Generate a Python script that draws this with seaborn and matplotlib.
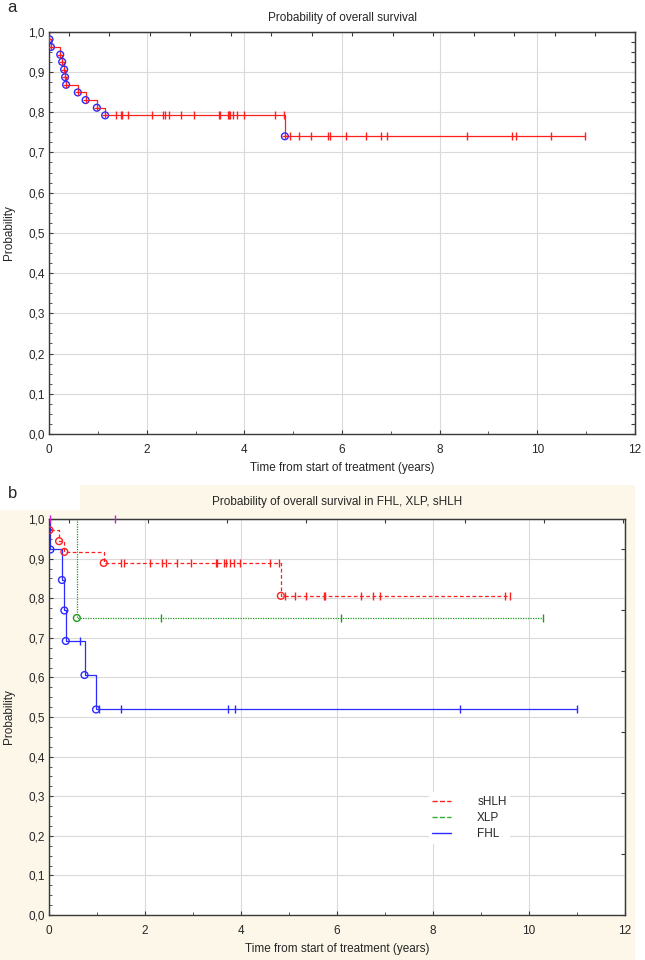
import numpy as np
import pandas as pd
import matplotlib
matplotlib.use('Agg')
import matplotlib.pyplot as plt
from matplotlib.lines import Line2D
from matplotlib.patches import Rectangle
import seaborn as sns

# ---- panel a: overall survival (all patients) ----
all_event_t = [0.01, 0.04, 0.23, 0.27, 0.31, 0.33, 0.35, 0.59, 0.75, 0.98, 1.15, 4.83]
all_event_p = [0.981, 0.962, 0.943, 0.925, 0.906, 0.887, 0.868, 0.849, 0.830, 0.811, 0.792, 0.740]
all_censor_t = [1.38, 1.47, 1.50, 1.61, 2.11, 2.34, 2.37, 2.45, 2.70, 2.97, 3.48, 3.51,
                3.67, 3.69, 3.71, 3.77, 3.85, 3.99, 4.62, 4.81, 4.93, 5.11, 5.36, 5.72,
                5.76, 6.09, 6.50, 6.79, 6.92, 8.56, 9.48, 9.56, 10.29, 10.98]

# ---- panel b: by diagnosis ----
shlh_event_t = [0.01, 0.21, 0.32, 1.14, 4.83]
shlh_event_p = [0.972, 0.944, 0.917, 0.889, 0.806]
shlh_censor_t = [1.50, 1.57, 2.11, 2.35, 2.44, 2.67, 2.96, 3.47, 3.51, 3.64, 3.69, 3.78,
                 3.85, 3.97, 4.61, 4.80, 4.92, 5.12, 5.36, 5.72, 5.76, 6.51, 6.76, 6.90,
                 9.49, 9.60]

xlp_event_t = [0.58]
xlp_event_p = [0.75]
xlp_censor_t = [2.33, 6.08, 10.30]

fhl_event_t = [0.03, 0.27, 0.32, 0.35, 0.74, 0.98]
fhl_event_p = [0.923, 0.846, 0.769, 0.692, 0.606, 0.519]
fhl_censor_t = [0.65, 1.05, 1.50, 3.72, 3.87, 8.57, 10.99]

other_censor_t = [0.03, 1.37]

x_ticks = [0, 2, 4, 6, 8, 10, 12]
y_ticks = [0.0, 0.1, 0.2, 0.3, 0.4, 0.5, 0.6, 0.7, 0.8, 0.9, 1.0]

RED = '#ff1f1f'
BLUE = '#2b2bff'
GREEN = '#1f9a1f'
MAGENTA = '#d01fd0'
CREAM = '#fcf7e9'

sns.set_style('whitegrid')
plt.rcParams['font.family'] = ['Liberation Sans', 'DejaVu Sans']
plt.rcParams['font.size'] = 8.5


def km_frame(event_t, event_p, end_t):
    t = [0.0] + list(event_t) + [end_t]
    p = [1.0] + list(event_p) + [event_p[-1]]
    return pd.DataFrame({'t': t, 'p': p})


def level_at(ts, event_t, event_p):
    idx = np.searchsorted(np.asarray(event_t), np.asarray(ts), side='right')
    levels = np.concatenate([[1.0], event_p])
    return levels[idx]


def draw_group(ax, event_t, event_p, censor_t, color, ls, circle_color, plus_inside=False):
    df = km_frame(event_t, event_p, max(censor_t))
    sns.lineplot(data=df, x='t', y='p', estimator=None, sort=False,
                 drawstyle='steps-post', color=color, lw=0.9, linestyle=ls, ax=ax)
    sns.scatterplot(x=censor_t, y=level_at(censor_t, event_t, event_p), marker='|',
                    s=30, color=color, edgecolor=color, linewidth=1.0, ax=ax, zorder=3)
    sns.scatterplot(x=event_t, y=event_p, marker='o', s=24, facecolors='none',
                    edgecolors=circle_color, linewidth=1.0, ax=ax, zorder=4)
    if plus_inside:
        sns.scatterplot(x=event_t, y=event_p, marker='+', s=16, color=color,
                        edgecolor=color, linewidth=0.9, ax=ax, zorder=5)


def style_axes(ax, top_ticks, right_ticks):
    ax.set_xlim(0, 12)
    ax.set_ylim(0, 1)
    ax.set_xticks(x_ticks)
    ax.set_yticks(y_ticks)
    ax.set_xticklabels([str(v) for v in x_ticks])
    ax.set_yticklabels([f'{v:.1f}'.replace('.', ',') for v in y_ticks])
    ax.set_xticks(np.arange(0, 12.01, 1), minor=True)
    ax.set_yticks(np.arange(0, 1.001, 0.025), minor=True)
    ax.grid(True, which='major', color='#dadada', lw=0.8)
    ax.grid(False, which='minor')
    ax.set_facecolor('white')
    for s in ax.spines.values():
        s.set_color('#3a3a3a')
        s.set_linewidth(1.0)
    ax.tick_params(which='both', direction='in', color='#3a3a3a', left=True, bottom=True,
                   labelsize=8.5)
    ax.tick_params(axis='x', which='both', pad=7.5)
    ax.tick_params(axis='y', which='both', pad=3)
    ax.tick_params(which='major', length=3)
    ax.tick_params(which='minor', length=2.5)
    sx = ax.secondary_xaxis('top')
    sx.set_xticks(top_ticks)
    sx.tick_params(direction='in', length=3, labeltop=False, color='#3a3a3a')
    sx.spines['top'].set_color('#3a3a3a')
    sy = ax.secondary_yaxis('right')
    sy.set_yticks(right_ticks)
    sy.tick_params(direction='in', length=3, labelright=False, color='#3a3a3a')
    sy.spines['right'].set_color('#3a3a3a')


fig = plt.figure(figsize=(6.45, 9.6), dpi=100)
W, H = 645, 960

# cream background behind panel b
fig.add_artist(Rectangle((0, 0), 635 / W, (960 - 510) / H, transform=fig.transFigure,
                         facecolor=CREAM, edgecolor='none', zorder=-10))
fig.add_artist(Rectangle((80 / W, (960 - 510) / H), (635 - 80) / W, 25 / H,
                         transform=fig.transFigure, facecolor=CREAM, edgecolor='none',
                         zorder=-10))

ax1 = fig.add_axes([49 / W, 1 - 434 / H, (635 - 49) / W, (434 - 31.7) / H])
ax2 = fig.add_axes([49 / W, 1 - 915 / H, (625 - 49) / W, (915 - 519) / H])

# panel a
draw_group(ax1, all_event_t, all_event_p, all_censor_t, RED, '-', BLUE, plus_inside=True)
style_axes(ax1, list(np.arange(0.4, 12, 0.83)), list(np.arange(0, 1.001, 0.025)))
ax1.set_title('Probability of overall survival', fontsize=8.5, pad=8)
ax1.set_xlabel('Time from start of treatment (years)', fontsize=8.5, labelpad=4)
ax1.set_ylabel('Probability', fontsize=8.5)
ax1.yaxis.set_label_coords(-0.058, 0.5)

# panel b
draw_group(ax2, shlh_event_t, shlh_event_p, shlh_censor_t, RED, (0, (3, 2)), RED)
draw_group(ax2, xlp_event_t, xlp_event_p, xlp_censor_t, GREEN, (0, (1, 1)), GREEN)
draw_group(ax2, fhl_event_t, fhl_event_p, fhl_censor_t, BLUE, '-', BLUE)
sns.scatterplot(x=other_censor_t, y=[1.0] * len(other_censor_t), marker='|', s=30,
                color=MAGENTA, edgecolor=MAGENTA, linewidth=1.0, ax=ax2, zorder=5,
                clip_on=False)
style_axes(ax2, list(np.arange(0.41, 12, 1.65)), list(np.arange(0.001, 1.0, 0.154)))
ax2.set_title('Probability of overall survival in FHL, XLP, sHLH', fontsize=8.5, pad=10)
ax2.set_xlabel('Time from start of treatment (years)', fontsize=8.5, labelpad=4)
ax2.set_ylabel('Probability', fontsize=8.5)
ax2.yaxis.set_label_coords(-0.059, 0.5)

handles = [Line2D([0], [0], color=RED, lw=1, ls='--'),
           Line2D([0], [0], color='#2fb02f', lw=1, ls='--'),
           Line2D([0], [0], color=BLUE, lw=1, ls='-')]
leg = ax2.legend(handles, ['sHLH', 'XLP', 'FHL'], loc='center',
                 bbox_to_anchor=(0.73, 0.245), frameon=True, fontsize=8.5,
                 handlelength=1.6, handletextpad=2.2, labelspacing=0.35,
                 borderpad=0.3)
leg.get_frame().set_facecolor('white')
leg.get_frame().set_edgecolor('none')
leg.get_frame().set_alpha(1)

fig.text(12 / W, 1 - 8 / H, 'a', fontsize=12, ha='center', va='center')
fig.text(13 / W, 1 - 494 / H, 'b', fontsize=12, ha='center', va='center')

fig.savefig('out.png', dpi=100, facecolor='white')
